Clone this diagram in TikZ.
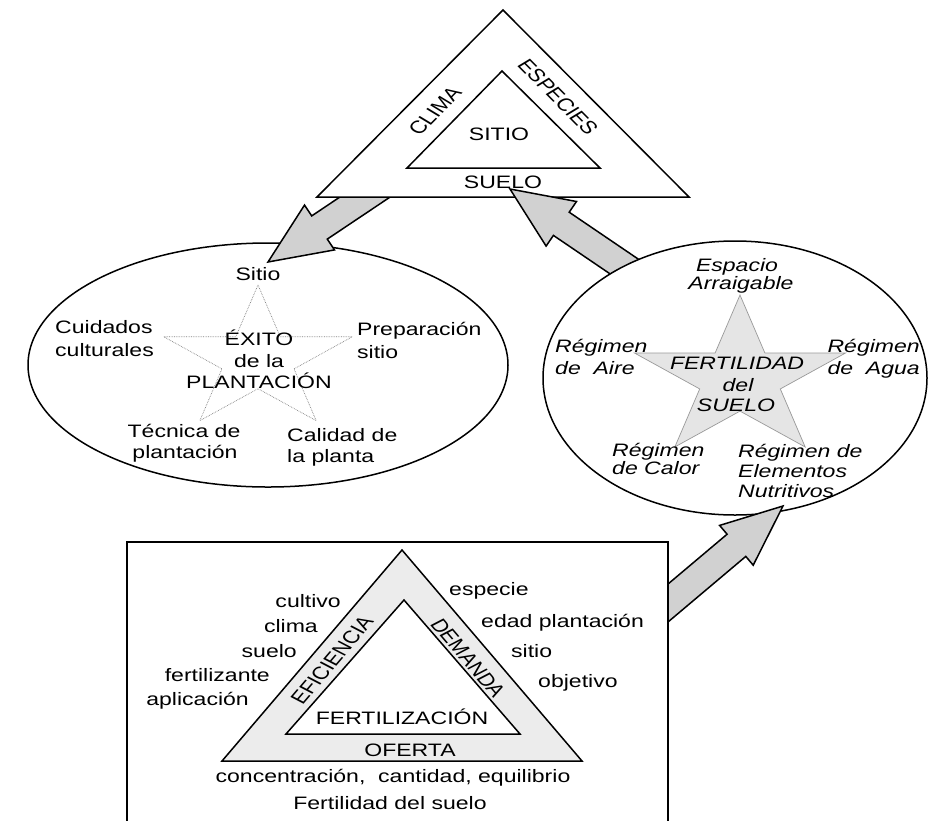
\documentclass[tikz,border=0pt]{standalone}
\usepackage{fontspec}
\setmainfont{Liberation Sans}[FakeStretch=1.28]
\newfontfamily\plainsf{Liberation Sans}
\newcommand\dfont{\fontsize{18}{22}\selectfont}
\begin{document}
\begin{tikzpicture}[x=1pt,y=-1pt,
  every node/.style={inner sep=0pt, font=\dfont},
  lbl/.style={anchor=base},
  lw/.style={anchor=base west},
  le/.style={anchor=base east},
  ital/.style={font=\dfont\itshape},
  rot/.style={font=\dfont\plainsf, xscale=1.28},
  outline/.style={draw=black, line width=1.5pt, line join=miter},
  blockarrow/.style={draw=black, line width=1.5pt, fill=gray!36, line join=miter},
]
\useasboundingbox (0,0) rectangle (929,820);

% ---------- left ellipse: EXITO de la PLANTACION ----------
\draw[outline, fill=white] (268,365) ellipse [x radius=240, y radius=122];
\begin{scope}[shift={(258,360)}, xscale=1.32]
  \draw[gray, densely dotted, line width=0.7pt]
    (-90:75) -- (-54:28.7) -- (-18:75) -- (18:28.7) -- (54:75) -- (90:28.7)
    -- (126:75) -- (162:28.7) -- (198:75) -- (234:28.7) -- cycle;
\end{scope}
\node[lbl] (lsitio) at (258,280) {Sitio};
\node[lw] (lcu1) at (55,333) {Cuidados};
\node[lw] (lcu2) at (55,356) {culturales};
\node[lw] (lpr1) at (357,335) {Preparación};
\node[lw] (lpr2) at (357,358) {sitio};
\node[lbl] (lex1) at (259,345) {ÉXITO};
\node[lbl] (lex2) at (259,367) {de la};
\node[lbl] (lex3) at (259,388) {PLANTACIÓN};
\node[lbl] (lte1) at (184,437) {Técnica de};
\node[lbl] (lte2) at (185,458) {plantación};
\node[lw] (lca1) at (287,441) {Calidad de};
\node[lw] (lca2) at (287,462) {la planta};

% ---------- arrow 1: triangle -> left ellipse ----------
\coordinate (a1tip) at (268,262);
\draw[blockarrow] (a1tip) -- (334.5,249.9) -- (327.3,239.1) -- (408.7,184.6)
  -- (393.1,161.4) -- (311.7,215.9) -- (304.5,205.1) -- cycle;

% ---------- top triangle ----------
\draw[outline, fill=white] (503,10) -- (689,197) -- (317,197) -- cycle;
\draw[outline] (502,71) -- (600,168) -- (407,168) -- cycle;
\node[lbl] (tsitio) at (499,140) {SITIO};
\node[lbl] (tsuelo) at (503,188) {SUELO};
\node[rot, rotate=52.2] (tclima) at (435,111) {CLIMA};
\node[rot, rotate=-52.2] (tesp) at (558,97) {ESPECIES};

% ---------- arrow 2: right ellipse -> triangle ----------
\coordinate (a2tip) at (510,189);
\draw[blockarrow] (a2tip) -- (546.1,246.1) -- (553.4,235.4) -- (642.8,296.1)
  -- (658.6,272.9) -- (569.2,212.2) -- (576.5,201.5) -- cycle;

% ---------- right ellipse: FERTILIDAD del SUELO ----------
\draw[outline, fill=white] (735,378) ellipse [x radius=192, y radius=137];
\begin{scope}[shift={(740,379)}, xscale=1.32]
  \draw[gray!80, line width=0.7pt, fill=gray!20]
    (-90:84) -- (-54:32.1) -- (-18:84) -- (18:32.1) -- (54:84) -- (90:32.1)
    -- (126:84) -- (162:32.1) -- (198:84) -- (234:32.1) -- cycle;
\end{scope}
\node[lbl,ital] (resp1) at (737,271) {Espacio};
\node[lbl,ital] (resp2) at (741,289) {Arraigable};
\node[lw,ital] (rai1) at (555,352) {Régimen};
\node[lw,ital] (rai2) at (555,374) {de\ \ Aire};
\node[le,ital] (rag1) at (920,352) {Régimen};
\node[le,ital] (rag2) at (920,374) {de\ \ Agua};
\node[lw,ital] (rca1) at (612,456) {Régimen};
\node[lw,ital] (rca2) at (612,474) {de Calor};
\node[lw,ital] (rel1) at (738,457) {Régimen de};
\node[lw,ital] (rel2) at (738,477) {Elementos};
\node[lw,ital] (rel3) at (738,497) {Nutritivos};
\node[lbl,ital] (rfe1) at (737,369) {FERTILIDAD};
\node[lbl,ital] (rfe2) at (738,391) {del};
\node[lbl,ital] (rfe3) at (736,411) {SUELO};

% ---------- arrow 3: box -> right ellipse ----------
\coordinate (a3tip) at (783,506);
\draw[blockarrow] (a3tip) -- (719.6,525.4) -- (727.1,534.2) -- (620.7,623.9)
  -- (639.4,646.1) -- (745.8,556.4) -- (753.2,565.2) -- cycle;

% ---------- box: FERTILIZACION ----------
\fill[white] (127,542) rectangle (668,830);
\draw[outline] (127,830) -- (127,542) -- (668,542) -- (668,830);
\draw[outline, fill=gray!15] (402,550) -- (582,761) -- (222,761) -- cycle;
\draw[outline, fill=white] (404,600) -- (520,734) -- (286,734) -- cycle;
\node[rot, rotate=56.3] (beff) at (332,660) {EFICIENCIA};
\node[rot, rotate=-56.3] (bdem) at (468,658) {DEMANDA};
\node[lbl] (bfer) at (402,724) {FERTILIZACIÓN};
\node[lbl] (bofe) at (410,756) {OFERTA};
\node[lbl] (bcon) at (393,782) {concentración,\ \ cantidad, equilibrio};
\node[lbl] (bfds) at (390,809) {Fertilidad del suelo};
\node[le] (bcul) at (341,607) {cultivo};
\node[le] (bcli) at (318,632) {clima};
\node[le] (bsue) at (297,657) {suelo};
\node[le] (bfz) at (270,681) {fertilizante};
\node[le] (bapl) at (249,705) {aplicación};
\node[lw] (besp) at (449,595) {especie};
\node[lw] (beda) at (481,627) {edad plantación};
\node[lw] (bsit) at (511,657) {sitio};
\node[lw] (bobj) at (538,687) {objetivo};
\end{tikzpicture}
\end{document}
